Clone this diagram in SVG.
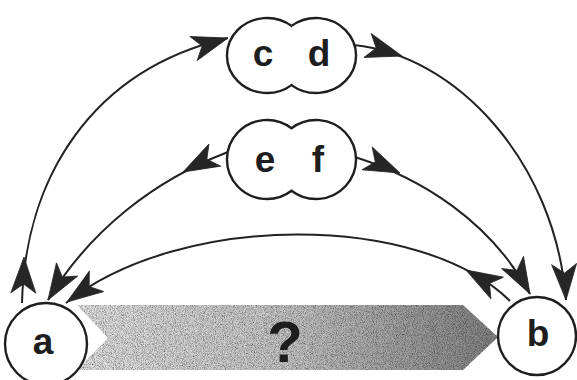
<svg xmlns="http://www.w3.org/2000/svg" xmlns:xlink="http://www.w3.org/1999/xlink" width="577" height="380" viewBox="0 0 577 380">
<style>
  .node { fill: #ffffff; stroke: #1e1e1e; stroke-width: 2.4; }
  .lbl { font-family: "Liberation Sans", Arial, sans-serif; font-weight: bold; font-size: 37px; fill: #1e1e1e; text-anchor: middle; }
  .conn { fill: none; stroke: #222222; stroke-width: 2; }
  .ah { fill: #262626; stroke: #262626; stroke-width: 0.8; stroke-linejoin: miter; }
</style>
<defs>
  <linearGradient id="bandGrad" x1="0" y1="0" x2="1" y2="0">
    <stop offset="0" stop-color="#e6e6e6"/>
    <stop offset="0.5" stop-color="#c8c8c8"/>
    <stop offset="1" stop-color="#858585"/>
  </linearGradient>
  <filter id="grain" x="0" y="0" width="100%" height="100%">
    <feTurbulence type="fractalNoise" baseFrequency="1.1" numOctaves="2" seed="4" result="n"/>
    <feColorMatrix in="n" type="matrix" values="0 0 0 0 0  0 0 0 0 0  0 0 0 0 0  1.6 0 0 0 -0.55" result="dots"/>
    <feComposite in="dots" in2="SourceGraphic" operator="in" result="d2"/>
    <feMerge><feMergeNode in="SourceGraphic"/><feMergeNode in="d2"/></feMerge>
  </filter>
  <path id="ah" d="M0,0 L-36,-12.5 L-27,0 L-36,12.5 Z"/>
</defs>

<g id="band">
  <polygon points="77,305 463,305 498,337 463,370 77,370 108,338" fill="url(#bandGrad)" filter="url(#grain)"/>
  <text x="285" y="362" font-family="Liberation Sans, Arial, sans-serif" font-weight="bold" font-size="58" fill="#1e1e1e" text-anchor="middle">?</text>
</g>

<g id="connectors">
  <path class="conn" d="M22,303 C25,180 90,70 228,38"/>
  <path class="conn" d="M354,45 C455,55 555,160 566,300"/>
  <path class="conn" d="M228,152 C155,180 90,230 48,300"/>
  <path class="conn" d="M355,157 C420,178 490,220 530,294"/>
  <path class="conn" d="M510,301 C420,212 180,212 66,303"/>
  <use xlink:href="#ah" class="ah" transform="translate(24,257) rotate(-89)"/>
  <use xlink:href="#ah" class="ah" transform="translate(228,38) rotate(-17)"/>
  <use xlink:href="#ah" class="ah" transform="translate(402,56) rotate(17)"/>
  <use xlink:href="#ah" class="ah" transform="translate(566,300) rotate(87)"/>
  <use xlink:href="#ah" class="ah" transform="translate(183,172) rotate(152)"/>
  <use xlink:href="#ah" class="ah" transform="translate(48,300) rotate(122)"/>
  <use xlink:href="#ah" class="ah" transform="translate(400,173) rotate(24)"/>
  <use xlink:href="#ah" class="ah" transform="translate(530,294) rotate(61)"/>
  <use xlink:href="#ah" class="ah" transform="translate(466,270) rotate(-150)"/>
  <use xlink:href="#ah" class="ah" transform="translate(67,302) rotate(145)"/>
</g>

<g id="node-a">
  <circle class="node" cx="46" cy="344" r="41"/>
  <text class="lbl" x="43" y="354">a</text>
</g>
<g id="node-b">
  <circle class="node" cx="537" cy="336" r="39"/>
  <text class="lbl" x="538" y="346">b</text>
</g>
<g id="node-cd">
  <path class="node" d="M291.5,25.9 A40,37.5 0 1 0 291.5,85.1 A40,37.5 0 1 0 291.5,25.9 Z"/>
  <text class="lbl" x="263" y="66">c</text>
  <text class="lbl" x="319" y="66">d</text>
</g>
<g id="node-ef">
  <path class="node" d="M291.5,128.3 A40,39.5 0 1 0 291.5,190.7 A40,39.5 0 1 0 291.5,128.3 Z"/>
  <text class="lbl" x="265" y="172">e</text>
  <text class="lbl" x="318" y="172">f</text>
</g>
</svg>
